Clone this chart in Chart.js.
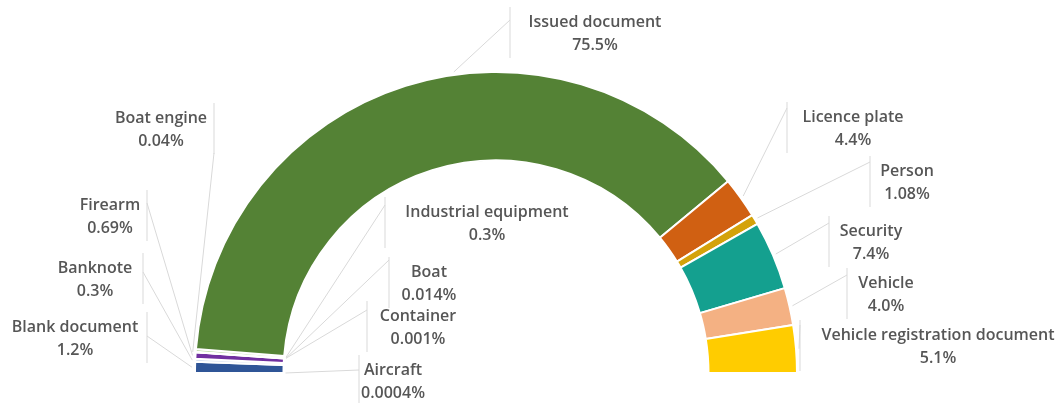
<!doctype html>
<html lang="en">

<head>
    <meta charset="UTF-8" />
    <title>Share by category</title>
    <script src="https://cdn.jsdelivr.net/npm/chart.js"></script>
    <style>
        html, body { margin: 0; padding: 0; background: #fff; }
        .chart-box { width: 1061px; height: 403px; position: relative; }
    </style>
</head>

<body>
    <div class="chart-box">
        <canvas id="shareChart"></canvas>
    </div>

    <script>
        // data, clockwise from the left end of the half ring
        const categories = ["Aircraft", "Blank document", "Banknote", "Firearm", "Boat engine", "Container", "Boat",
            "Industrial equipment", "Issued document", "Licence plate", "Person", "Security", "Vehicle",
            "Vehicle registration document"];
        const shares = [0.0004, 1.2, 0.3, 0.69, 0.04, 0.001, 0.014, 0.3, 75.5, 4.4, 1.08, 7.4, 4.0, 5.1];
        const shareLabels = ["0.0004%", "1.2%", "0.3%", "0.69%", "0.04%", "0.001%", "0.014%", "0.3%", "75.5%",
            "4.4%", "1.08%", "7.4%", "4.0%", "5.1%"];
        const sliceColors = ["#a5a5a5", "#2f5597", "#dae3f3", "#7030a0", "#9dc3e6", "#bfbfbf", "#8faadc",
            "#a9d18e", "#548235", "#d06012", "#d4a20a", "#14a08f", "#f4b183", "#ffcc00"];

        // label placement: text centre x, first line y, side bar x, where the leader meets it,
        // ring it starts from, and how far along the slice (0..1)
        const labelLayout = [
            { x: 393, y: 370, bar: 359, join: 370, ring: "inner", at: 0.5 },
            { x: 75, y: 327, bar: 147, join: 336, ring: "outer", at: 0.5 },
            { x: 95, y: 268, bar: 143, join: 272, ring: "outer", at: 0.5 },
            { x: 110, y: 205, bar: 147, join: 203, ring: "outer", at: 0.5 },
            { x: 161, y: 118, bar: 214, join: 153, ring: "outer", at: 0.5 },
            { x: 418, y: 316, bar: 367, join: 310, ring: "inner", at: 0.5 },
            { x: 429, y: 272, bar: 389, join: 260, ring: "inner", at: 0.5 },
            { x: 487, y: 212, bar: 385, join: 205, ring: "inner", at: 0.5 },
            { x: 595, y: 22, bar: 510, join: 20, ring: "outer", at: 0.57 },
            { x: 853, y: 117, bar: 787, join: 108, ring: "outer", at: 0.5 },
            { x: 907, y: 171, bar: 870, join: 162, ring: "outer", at: 0.5 },
            { x: 871, y: 231, bar: 829, join: 223, ring: "outer", at: 0.5 },
            { x: 886, y: 283, bar: 847, join: 275, ring: "outer", at: 0.5 },
            { x: 938, y: 335, bar: 800, join: 325, ring: "outer", at: 0.5 }
        ];

        const calloutPlugin = {
            id: "callouts",
            afterDatasetsDraw(chart) {
                const ctx = chart.ctx;
                const arcs = chart.getDatasetMeta(0).data;
                ctx.save();
                arcs.forEach((arc, i) => {
                    const p = arc.getProps(["x", "y", "startAngle", "endAngle", "innerRadius", "outerRadius"], true);
                    const lay = labelLayout[i];
                    const ang = p.startAngle + (p.endAngle - p.startAngle) * lay.at;
                    const r = lay.ring === "inner" ? p.innerRadius - 2 : p.outerRadius + 3;
                    const ax = p.x + Math.cos(ang) * r;
                    const ay = p.y + Math.sin(ang) * r;

                    ctx.strokeStyle = "#d9d9d9";
                    ctx.lineWidth = 1;
                    ctx.beginPath();
                    ctx.moveTo(ax, ay);
                    ctx.lineTo(lay.bar, lay.join);
                    ctx.stroke();
                    ctx.beginPath();
                    ctx.moveTo(lay.bar, lay.y - 15);
                    ctx.lineTo(lay.bar, lay.y + 36);
                    ctx.stroke();

                    ctx.fillStyle = "#565656";
                    ctx.font = "600 16px 'Open Sans'";
                    ctx.textAlign = "center";
                    ctx.textBaseline = "middle";
                    ctx.fillText(categories[i], lay.x, lay.y);
                    ctx.fillText(shareLabels[i], lay.x, lay.y + 23);
                });
                ctx.restore();
            }
        };

        new Chart(document.getElementById("shareChart"), {
            type: "doughnut",
            data: {
                labels: categories,
                datasets: [{
                    data: shares,
                    backgroundColor: sliceColors,
                    borderColor: "#ffffff",
                    borderWidth: 2
                }]
            },
            options: {
                responsive: true,
                maintainAspectRatio: false,
                animation: false,
                rotation: -90,
                circumference: 180,
                radius: 301,
                cutout: "70.6%",
                layout: { padding: { left: 0, right: 69, top: 42, bottom: 0 } },
                plugins: { legend: { display: false }, tooltip: { enabled: false } }
            },
            plugins: [calloutPlugin]
        });
    </script>
</body>

</html>
